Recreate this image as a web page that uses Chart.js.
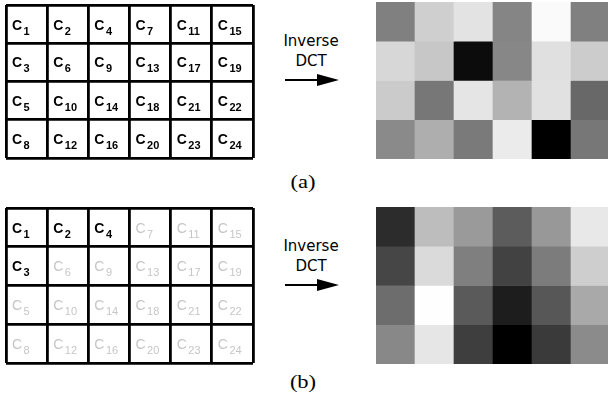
<!DOCTYPE html>
<html>
<head>
<meta charset="utf-8">
<script src="https://cdn.jsdelivr.net/npm/chart.js@4.4.1/dist/chart.umd.min.js"></script>
<style>
  html, body { margin: 0; padding: 0; background: #fff; }
  body { width: 608px; height: 403px; position: relative; overflow: hidden; }
  canvas { position: absolute; }
  .lbl { position: absolute; width: 100px; text-align: center; font-family: "DejaVu Sans"; font-size: 15px; line-height: 17px; color: #000; }
  .cap { position: absolute; width: 60px; text-align: center; font-family: "Liberation Serif"; font-size: 18px; line-height: 20px; color: #000; transform: scaleX(1.25); }
  .arrow-line { position: absolute; height: 2px; background: #000; }
  .arrow-head { position: absolute; width: 0; height: 0; border-top: 6px solid transparent; border-bottom: 6px solid transparent; border-left: 22px solid #000; }
</style>
</head>
<body>
<canvas id="gridA" width="251" height="157" style="left:4px;top:3px"></canvas>
<canvas id="heatA" width="234" height="157" style="left:376px;top:2px"></canvas>
<canvas id="gridB" width="251" height="159" style="left:4px;top:206px"></canvas>
<canvas id="heatB" width="234" height="157" style="left:376px;top:207px"></canvas>

<div class="lbl" style="left:261px;top:33px">Inverse</div>
<div class="lbl" style="left:261px;top:53px">DCT</div>
<div class="arrow-line" style="left:285px;top:79px;width:34px"></div>
<div class="arrow-head" style="left:317px;top:74px"></div>

<div class="lbl" style="left:261px;top:238px">Inverse</div>
<div class="lbl" style="left:261px;top:258px">DCT</div>
<div class="arrow-line" style="left:285px;top:284px;width:34px"></div>
<div class="arrow-head" style="left:317px;top:279px"></div>

<div class="cap" style="left:273px;top:172px">(a)</div>
<div class="cap" style="left:273px;top:372px">(b)</div>

<script>
'use strict';

let columns = ['1', '2', '3', '4', '5', '6'];
let rowNames = ['row 1', 'row 2', 'row 3', 'row 4'];

// coefficient numbers written in each cell (zig-zag order)
let coefIndex = [
  [1, 2, 4, 7, 11, 15],
  [3, 6, 9, 13, 17, 19],
  [5, 10, 14, 18, 21, 22],
  [8, 12, 16, 20, 23, 24]
];
let keptAll = coefIndex.flat();
let keptLow = [1, 2, 3, 4];

// grey level (0-255) of every block after the inverse DCT
let grayFull = [
  [128, 207, 227, 133, 250, 128],
  [215, 199, 12, 135, 224, 204],
  [203, 119, 229, 179, 225, 104],
  [138, 174, 122, 235, 0, 119]
];
let grayLow = [
  [44, 189, 154, 92, 152, 232],
  [70, 218, 127, 66, 124, 206],
  [109, 254, 90, 29, 87, 169],
  [136, 230, 62, 0, 58, 139]
];

function cellLabels(kept) {
  return {
    id: 'cellLabels',
    afterDatasetsDraw(chart) {
      let ctx = chart.ctx;
      ctx.save();
      ctx.textBaseline = 'alphabetic';
      ctx.textAlign = 'left';
      chart.data.datasets.forEach(function (ds, r) {
        let meta = chart.getDatasetMeta(r);
        meta.data.forEach(function (bar, c) {
          let p = bar.getProps(['x', 'y', 'base', 'width'], true);
          let left = p.x - p.width / 2;
          let cy = (p.y + p.base) / 2;
          let n = ds.coefs[c];
          let on = kept.indexOf(n) >= 0;
          ctx.fillStyle = on ? '#000' : '#c6c6c6';
          ctx.font = (on ? 'bold ' : '') + '14px "Liberation Sans", Arial, sans-serif';
          ctx.fillText('C', left + 6, cy + 5);
          let w = ctx.measureText('C').width;
          ctx.font = (on ? 'bold ' : '') + '11px "Liberation Sans", Arial, sans-serif';
          ctx.fillText(String(n), left + 6 + w + 1.5, cy + 10);
        });
      });
      ctx.restore();
    }
  };
}

function makeGrid(id, kept) {
  let datasets = coefIndex.map(function (row, r) {
    return {
      label: rowNames[r],
      data: row.map(function () { return 1; }),
      coefs: row,
      backgroundColor: 'rgba(0,0,0,0)',
      borderWidth: 0
    };
  });
  new Chart(document.getElementById(id), {
    type: 'bar',
    data: { labels: columns, datasets: datasets },
    options: {
      responsive: false,
      animation: false,
      layout: { padding: 2 },
      barPercentage: 1,
      categoryPercentage: 1,
      plugins: { legend: { display: false }, tooltip: { enabled: false } },
      scales: {
        x: {
          stacked: true,
          grid: { offset: true, color: '#000', lineWidth: 2.8, drawTicks: false },
          border: { display: false },
          ticks: { display: false }
        },
        y: {
          stacked: true, min: 0, max: 4, reverse: true,
          grid: { color: '#000', lineWidth: 2.8, drawTicks: false },
          border: { display: false },
          ticks: { display: false, stepSize: 1 }
        }
      }
    },
    plugins: [cellLabels(kept)]
  });
}

function makeHeat(id, grays) {
  let datasets = grays.map(function (row, r) {
    return {
      label: rowNames[r],
      data: row.map(function () { return 1; }),
      backgroundColor: row.map(function (v) { return 'rgb(' + v + ',' + v + ',' + v + ')'; }),
      borderWidth: 0
    };
  });
  new Chart(document.getElementById(id), {
    type: 'bar',
    data: { labels: columns, datasets: datasets },
    options: {
      responsive: false,
      animation: false,
      layout: { padding: 0 },
      barPercentage: 1,
      categoryPercentage: 1,
      plugins: { legend: { display: false }, tooltip: { enabled: false } },
      scales: {
        x: { stacked: true, display: false },
        y: { stacked: true, display: false, min: 0, max: 4, reverse: true }
      }
    }
  });
}

makeGrid('gridA', keptAll);
makeHeat('heatA', grayFull);
makeGrid('gridB', keptLow);
makeHeat('heatB', grayLow);
</script>
</body>
</html>
